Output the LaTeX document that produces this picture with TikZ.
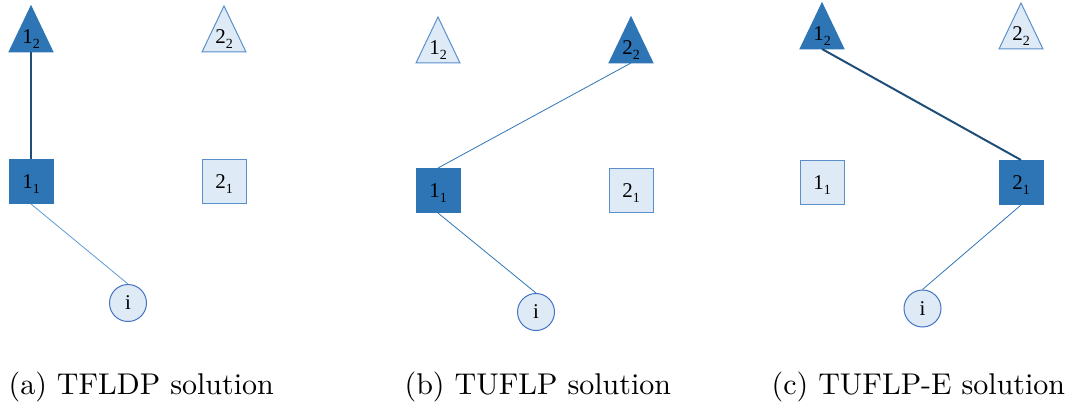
\documentclass[tikz,border=0pt]{standalone}
\usepackage{fontspec}
\newfontfamily\labfont{Liberation Serif}
\definecolor{darkfill}{HTML}{2E75B6}
\definecolor{lightfill}{HTML}{DEEBF7}
\definecolor{lightedge}{HTML}{5B8FCB}
\definecolor{linkdark}{HTML}{1F4E79}
\definecolor{linkmid}{HTML}{2E75B6}
\definecolor{linklight}{HTML}{5B9BD5}
\definecolor{custedge}{HTML}{4472C4}
\tikzset{
  open/.style={fill=lightfill, draw=lightedge, line width=1pt},
  opened/.style={fill=darkfill, draw=darkfill, line width=1pt},
  lbl/.style={inner sep=0pt, font=\labfont\fontsize{21}{22}\selectfont, text=black},
  sqbox/.style={rectangle, minimum size=44pt, inner sep=0pt, font=\labfont\fontsize{21}{22}\selectfont, text=black},
  cust/.style={circle, minimum size=37pt, inner sep=0pt, fill=lightfill, draw=custedge, line width=1pt, font=\labfont\fontsize{21}{22}\selectfont},
  trunk/.style={draw=linkdark, line width=2pt},
  feed/.style={draw=linkmid, line width=0.8pt},
  feedlight/.style={draw=linklight, line width=0.8pt},
  caption/.style={anchor=base west, inner sep=0pt, scale=3, font=\fontsize{10}{12}\selectfont},
}
% digit with a lowered index
\newcommand\facLab[2]{#1\smash{\raisebox{-5pt}{\fontsize{14}{14}\selectfont #2}}}
% upward triangle: name, centre x, apex y, style, text
\newcommand\facTri[5]{%
  \filldraw[#4] (#2-22,#3+46) -- (#2,#3) -- (#2+22,#3+46) -- cycle;
  \node[lbl] (#1) at (#2,#3+31) {#5};
  \coordinate (#1-base) at (#2,#3+46);
}
\begin{document}
\begin{tikzpicture}[x=1pt, y=-1pt]
\useasboundingbox (0,0) rectangle (1069,409);

% (a) TFLDP
\facTri{a12}{31}{6}{opened}{\facLab{1}{2}}
\facTri{a22}{224}{6}{open}{\facLab{2}{2}}
\node[sqbox, opened] (a11) at (31,181.5) {\facLab{1}{1}};
\node[sqbox, open] (a21) at (224,181.5) {\facLab{2}{1}};
\node[cust] (ai) at (128,303) {i};
\draw[trunk] (a12-base) -- (a11.north);
\draw[feedlight] (a11.south) -- (ai.north);

% (b) TUFLP
\facTri{b12}{438}{17}{open}{\facLab{1}{2}}
\facTri{b22}{631}{17}{opened}{\facLab{2}{2}}
\node[sqbox, opened] (b11) at (438,190.5) {\facLab{1}{1}};
\node[sqbox, open] (b21) at (631,190.5) {\facLab{2}{1}};
\node[cust] (bi) at (536,312) {i};
\draw[feed] (b22-base) -- (b11.north);
\draw[feed] (b11.south) -- (bi.north);

% (c) TUFLP-E
\facTri{c12}{822}{3}{opened}{\facLab{1}{2}}
\facTri{c22}{1021}{3}{open}{\facLab{2}{2}}
\node[sqbox, open] (c11) at (822,182.5) {\facLab{1}{1}};
\node[sqbox, opened] (c21) at (1021,182.5) {\facLab{2}{1}};
\node[cust] (ci) at (922.5,308.5) {i};
\draw[trunk] (c12-base) -- (c21.north);
\draw[feed] (c21.south) -- (ci.north);

% captions
\node[caption] (capa) at (8,394) {(a) TFLDP solution};
\node[caption] (capb) at (404,394) {(b) TUFLP solution};
\node[caption] (capc) at (771,394) {(c) TUFLP-E solution};
\end{tikzpicture}
\end{document}
